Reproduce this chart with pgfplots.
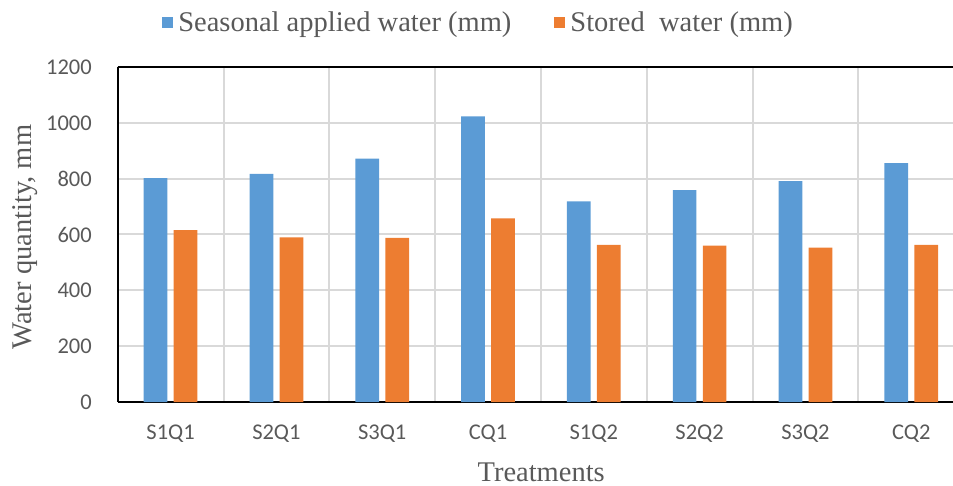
\documentclass[border=0pt]{standalone}
\usepackage{pgfplots}
\pgfplotsset{compat=1.18}
\usepackage{fontspec}
\setmainfont{Liberation Serif}
\newfontfamily\carlito{Carlito}
\definecolor{sblue}{HTML}{5B9BD5}
\definecolor{sorange}{HTML}{ED7D31}
\definecolor{gridc}{HTML}{D9D9D9}
\definecolor{txt}{HTML}{595959}
\begin{document}
\begin{tikzpicture}
\begin{axis}[
  at={(0,0)}, anchor=south west,
  scale only axis, width=835.3bp, height=335bp,
  xmin=-0.5, xmax=7.395, ymin=0, ymax=1200,
  ytick={0,200,...,1200},
  xtick={0,...,7},
  xticklabels={S1Q1,S2Q1,S3Q1,CQ1,S1Q2,S2Q2,S3Q2,CQ2},
  minor xtick={0.5,1.5,...,6.5},
  ymajorgrids, xminorgrids,
  major grid style={gridc, line width=2bp},
  minor grid style={gridc, line width=2bp},
  major tick length=0pt, minor tick length=0pt,
  separate axis lines,
  axis x line*=box, axis y line*=left,
  axis line style={black, line width=2bp},
  xticklabel pos=lower, yticklabel pos=left,
  /pgf/number format/assume math mode=true,
  /pgf/number format/1000 sep={},
  ticklabel style={font=\carlito\fontsize{22.5bp}{27bp}\selectfont, text=txt},
  yticklabel style={anchor=east, inner sep=0pt, xshift=-25.7bp},
  xticklabel style={anchor=center, inner sep=0pt, yshift=-32bp},
  ylabel={Water quantity, mm},
  xlabel={Treatments},
  label style={font=\fontsize{28.5bp}{34bp}\selectfont, text=txt},
  ylabel style={at={(axis description cs:-0.111,0.4925)}, anchor=center, rotate=0},
  xlabel style={at={(axis description cs:0.507,-0.209)}, anchor=center},
  ybar, bar width=23.7bp,
  legend columns=2,
  legend image code/.code={\fill[#1] (0bp,-5.5bp) rectangle (11bp,5.5bp);},
  legend style={at={(axis description cs:0.4338,1.134)}, anchor=center,
    draw=none, fill=none, font=\fontsize{28.5bp}{34bp}\selectfont, text=txt,
    nodes={inner sep=5bp},
    /tikz/every even column/.append style={column sep=38bp}},
]
\addplot[ybar, fill=sblue, draw=none, bar shift=-15bp] coordinates {
  (0,802) (1,817) (2,872) (3,1023) (4,719) (5,759) (6,791) (7,856)};
\addlegendentry{Seasonal applied water (mm)}
\addplot[ybar, fill=sorange, draw=none, bar shift=15bp] coordinates {
  (0,616) (1,590) (2,588) (3,658) (4,563) (5,560) (6,553) (7,563)};
\addlegendentry{Stored\ \ water (mm)}
\end{axis}
\pgfresetboundingbox
\useasboundingbox (-117.7bp,-84bp) rectangle (835.3bp,402bp);
\end{tikzpicture}
\end{document}
